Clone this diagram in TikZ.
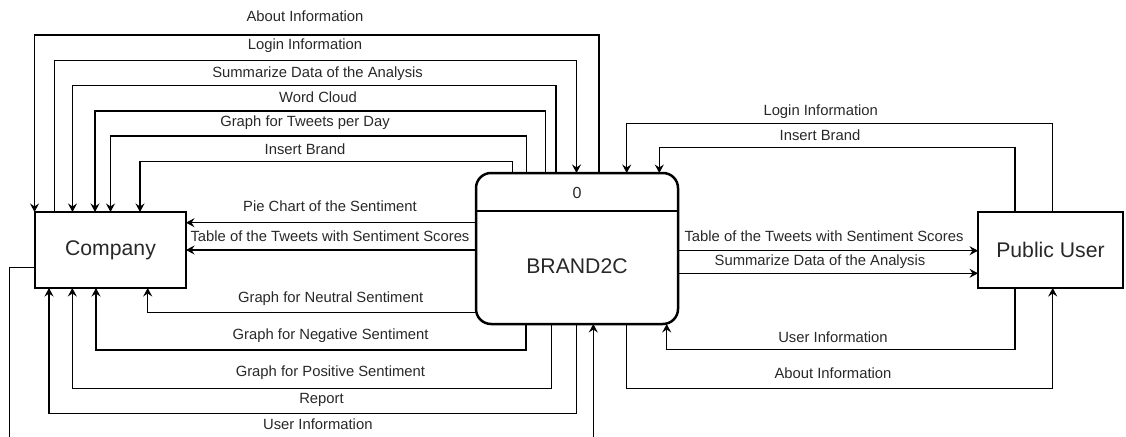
\documentclass[tikz,border=0pt]{standalone}
\usepackage{fontspec}
\setmainfont{Liberation Sans}
\usetikzlibrary{arrows.meta}
\definecolor{ink}{RGB}{40,40,40}
\begin{document}
\begin{tikzpicture}[x=1pt,y=-1pt,
  flow/.style={draw=black, line width=1.1pt,
    -{Stealth[length=8.5pt,width=9pt,inset=3pt]}},
  lbl/.style={font=\fontsize{14.8}{16}\selectfont, text=ink, inner sep=0},
  entity/.style={draw=black, line width=1.2pt, minimum width=151pt,
    minimum height=76pt, inner sep=0, outer sep=0, text=ink,
    font=\fontsize{21.2}{24}\selectfont},
  process/.style={draw=black, line width=2.5pt, rounded corners=15pt,
    minimum width=202pt, minimum height=151pt, inner sep=0, outer sep=0}]
\useasboundingbox (0,0) rectangle (1126,436);

% external entities and the process
\node[entity] (company) at (110.5,250) {Company};
\node[entity, minimum width=145pt] (public) at (1050.5,250) {Public User};
\node[process] (brand) at (577,248.5) {};
\draw[line width=2pt] (brand.west |- 0,211) -- (brand.east |- 0,211);
\node[lbl, font=\fontsize{16}{18}\selectfont] (pid) at (577,192.5) {0};
\node[lbl, font=\fontsize{21.2}{24}\selectfont] (pname) at (577,266) {BRAND2C};

% flows between BRAND2C and Company, over the top
\draw[flow] (brand.north -| 599,0) |- (34.5,35) -- (company.north -| 34.5,0);
\draw[flow] (company.north -| 54.3,0) |- (576.5,60.7) -- (brand.north -| 576.5,0);
\draw[flow] (brand.north -| 556,0) |- (72.5,85.7) -- (company.north -| 72.5,0);
\draw[flow] (brand.north -| 545.7,0) |- (95,111) -- (company.north -| 95,0);
\draw[flow] (brand.north -| 526.3,0) |- (110.5,136) -- (company.north -| 110.5,0);
\draw[flow] (brand.north -| 512.7,0) |- (140,161.7) -- (company.north -| 140,0);
\node[lbl] (l1) at (305,16.7) {About Information};
\node[lbl] (l2) at (305,46) {Login Information};
\node[lbl] (l3) at (317.6,73.3) {Summarize Data of the Analysis};
\node[lbl] (l4) at (318,97.3) {Word Cloud};
\node[lbl] (l5) at (305,122.7) {Graph for Tweets per Day};
\node[lbl] (l6) at (305,149) {Insert Brand};

% straight flows to Company
\draw[flow] (brand.west |- 0,222.7) -- (company.east |- 0,222.7);
\draw[flow] (brand.west |- 0,250) -- (company.east |- 0,250);
\node[lbl] (l7) at (330,206) {Pie Chart of the Sentiment};
\node[lbl] (l8) at (330,236) {Table of the Tweets with Sentiment Scores};

% flows under the boxes
\draw[flow] (brand.west |- 0,312.7) -| (company.south -| 147.7,0);
\draw[flow] (brand.south -| 526,0) |- (96,350) -- (company.south -| 96,0);
\draw[flow] (brand.south -| 551.7,0) |- (72.3,388.3) -- (company.south -| 72.3,0);
\draw[flow] (brand.south -| 576.7,0) |- (49,413.3) -- (company.south -| 49,0);
\draw[flow] (company.west |- 0,267.7) -| (9.3,446) -| (brand.south -| 593.3,0);
\node[lbl] (l9) at (330.6,299) {Graph for Neutral Sentiment};
\node[lbl] (l10) at (330.6,336) {Graph for Negative Sentiment};
\node[lbl] (l11) at (330.4,373) {Graph for Positive Sentiment};
\node[lbl] (l12) at (321.5,400) {Report};
\node[lbl] (l13) at (317.8,424) {User Information};

% flows between BRAND2C and Public User
\draw[flow] (public.north -| 1052.7,0) |- (626.7,123.3) -- (brand.north -| 626.7,0);
\draw[flow] (public.north -| 1015,0) |- (659.3,147.7) -- (brand.north -| 659.3,0);
\draw[flow] (brand.east |- 0,250.7) -- (public.west |- 0,250.7);
\draw[flow] (brand.east |- 0,273.3) -- (public.west |- 0,273.3);
\draw[flow] (public.south -| 1015,0) |- (666.7,349.3) -- (brand.south -| 666.7,0);
\draw[flow] (brand.south -| 626.7,0) |- (1052.7,388.3) -- (public.south -| 1052.7,0);
\node[lbl] (r1) at (820.7,111.7) {Login Information};
\node[lbl] (r2) at (820,135) {Insert Brand};
\node[lbl] (r3) at (824,236) {Table of the Tweets with Sentiment Scores};
\node[lbl] (r4) at (820,261.7) {Summarize Data of the Analysis};
\node[lbl] (r5) at (833,337.3) {User Information};
\node[lbl] (r6) at (833,373.3) {About Information};
\end{tikzpicture}
\end{document}
